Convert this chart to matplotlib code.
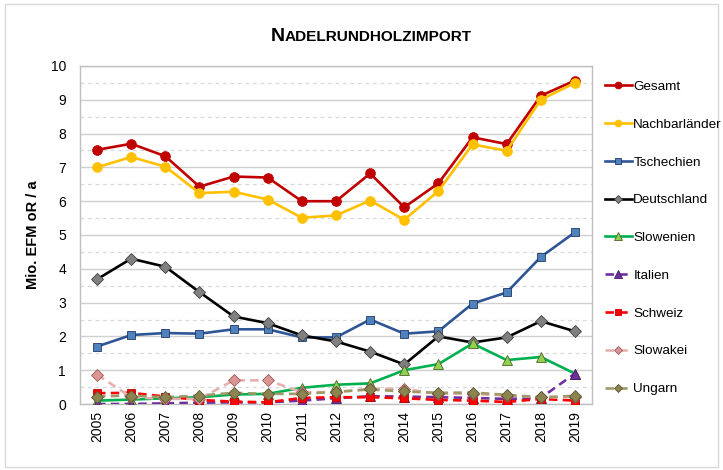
#!/usr/bin/env python

import numpy as np
from matplotlib import pyplot as plt
from matplotlib.patches import Rectangle
from matplotlib.ticker import MultipleLocator

years = [str(y) for y in range(2005, 2020)]

gesamt = [7.52, 7.70, 7.33, 6.43, 6.73, 6.70, 6.00, 6.00, 6.82, 5.82, 6.53, 7.89, 7.69, 9.12, 9.57]
nachbar = [7.00, 7.31, 7.02, 6.24, 6.28, 6.05, 5.51, 5.58, 6.02, 5.45, 6.30, 7.68, 7.49, 9.00, 9.50]
tschechien = [1.70, 2.04, 2.10, 2.08, 2.21, 2.21, 1.97, 1.97, 2.50, 2.08, 2.15, 2.97, 3.30, 4.35, 5.08]
deutschland = [3.69, 4.30, 4.06, 3.31, 2.59, 2.39, 2.03, 1.85, 1.55, 1.17, 2.00, 1.82, 1.97, 2.45, 2.15]
slowenien = [0.10, 0.13, 0.17, 0.20, 0.28, 0.30, 0.48, 0.57, 0.61, 1.00, 1.18, 1.79, 1.30, 1.39, 0.90]
italien = [0.00, 0.00, 0.02, 0.04, 0.05, 0.05, 0.10, 0.17, 0.23, 0.22, 0.20, 0.18, 0.15, 0.18, 0.90]
schweiz = [0.32, 0.33, 0.22, 0.12, 0.07, 0.05, 0.18, 0.20, 0.20, 0.17, 0.12, 0.10, 0.06, 0.15, 0.10]
slowakei = [0.87, 0.20, 0.15, 0.15, 0.70, 0.70, 0.35, 0.35, 0.45, 0.45, 0.30, 0.30, 0.25, 0.20, 0.20]
ungarn = [0.22, 0.25, 0.20, 0.25, 0.33, 0.30, 0.30, 0.36, 0.43, 0.37, 0.33, 0.34, 0.27, 0.20, 0.24]


def main():
    plt.rcParams['font.family'] = ['Liberation Sans', 'DejaVu Sans']

    fig = plt.figure(figsize=(7.23, 4.70), dpi=100)
    ax = fig.add_axes([80 / 723, 1 - 404 / 470, 512 / 723, 338 / 470])

    x = np.arange(len(years))
    dash = (3.2, 2.0)

    # (label, values, line colour, marker, marker face, marker edge, size, dashed)
    series = [
        ('Gesamt', gesamt, '#C00000', 'o', '#C00000', '#C00000', 7, False),
        ('Nachbarländer', nachbar, '#FFC000', 'o', '#FFC000', '#FFC000', 7, False),
        ('Tschechien', tschechien, '#2F5597', 's', '#4F81BD', '#1F3864', 6, False),
        ('Deutschland', deutschland, '#000000', 'D', '#808080', '#404040', 5.8, False),
        ('Slowenien', slowenien, '#00B050', '^', '#92D050', '#4F6228', 7.5, False),
        ('Italien', italien, '#7030A0', '^', '#7030A0', '#3F1A5C', 7.5, True),
        ('Schweiz', schweiz, '#FF0000', 's', '#FF0000', '#C00000', 6.2, True),
        ('Slowakei', slowakei, '#E6B0AE', 'D', '#D99694', '#A05A58', 5.8, True),
        ('Ungarn', ungarn, '#A09A6A', 'D', '#8C8450', '#5A5530', 5.8, True),
    ]

    for i, (label, vals, col, mk, mfc, mec, ms, dashed) in enumerate(series):
        line, = ax.plot(x, vals, color=col, lw=1.9, marker=mk, markersize=ms,
                        markerfacecolor=mfc, markeredgecolor=mec, markeredgewidth=0.6,
                        label=label, zorder=3 + i)
        if dashed:
            line.set_dashes(dash)

    ax.set_xlim(-0.5, len(years) - 0.5)
    ax.set_ylim(0, 10)
    ax.set_xticks(x)
    ax.set_xticklabels(years, rotation=90, fontsize=10)
    ax.yaxis.set_major_locator(MultipleLocator(1))
    ax.yaxis.set_minor_locator(MultipleLocator(0.5))
    ax.tick_params(axis='both', which='both', length=0)
    ax.tick_params(axis='y', labelsize=10, pad=10)
    ax.tick_params(axis='x', pad=5)

    ax.grid(axis='y', which='major', color='#D0D0D0', lw=1.0)
    ax.grid(axis='y', which='minor', color='#D9D9D9', lw=0.9, ls=(0, (3, 3)))
    ax.set_axisbelow(True)
    for sp in ax.spines.values():
        sp.set_color('#BFBFBF')
        sp.set_linewidth(1.0)

    ax.set_ylabel('Mio. EFM oR / a', fontsize=10.5, fontweight='bold', labelpad=8)

    # title in small caps
    fig.text(285 / 723, 1 - 41 / 470, 'N', fontsize=14, fontweight='bold',
             ha='right', va='baseline')
    fig.text(285 / 723, 1 - 41 / 470, 'ADELRUNDHOLZIMPORT', fontsize=11.1,
             fontweight='bold', ha='left', va='baseline')

    fig.legend(loc='upper left', bbox_to_anchor=(598 / 723, 1 - 74 / 470),
               frameon=False, fontsize=9.7, borderpad=0, labelspacing=1.88,
               handlelength=2.0, handletextpad=0.12, markerscale=0.7)

    fig.patches.append(Rectangle((5 / 723, 3 / 470), 713 / 723, 463 / 470,
                                 transform=fig.transFigure, fill=False,
                                 edgecolor='#D9D9D9', lw=1.0))

    fig.savefig('out.png', dpi=100)
    plt.close(fig)


if __name__ == '__main__':
    main()
